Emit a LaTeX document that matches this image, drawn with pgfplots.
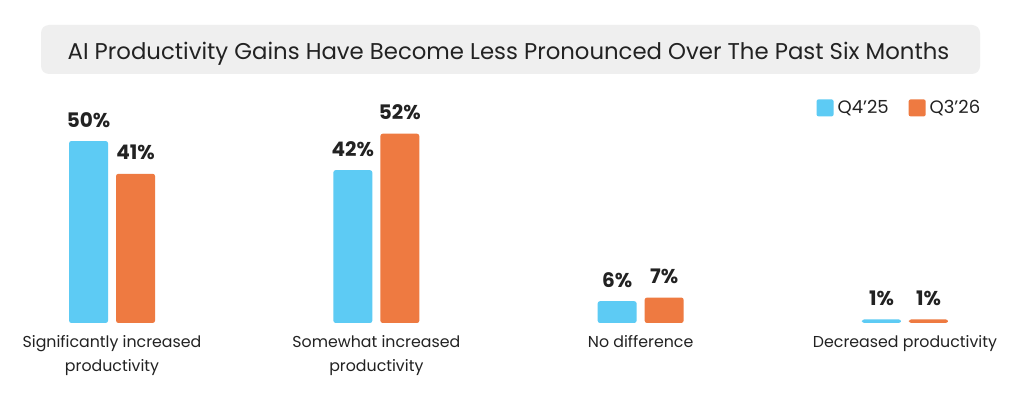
\documentclass[border=0pt]{standalone}
\usepackage{fontspec}
\setmainfont{Poppins}
\usepackage{pgfplots}
\pgfplotsset{compat=1.18}
\definecolor{cblue}{HTML}{5DCBF4}
\definecolor{corange}{HTML}{EE7A41}
\definecolor{ctext}{HTML}{222222}
\definecolor{cbox}{HTML}{EFEFEF}
\begin{document}
\begin{tikzpicture}
\path[use as bounding box] (0,0) rectangle (512pt,206.5pt);
\fill[white] (0,0) rectangle (512pt,206.5pt);
\fill[cbox, rounded corners=4pt] (20.5pt,169.5pt) rectangle (490pt,194pt);
\node[anchor=base, inner sep=0, text=ctext, font=\fontsize{11.4}{14}\selectfont] at (254.25pt,176.5pt) {AI Productivity Gains Have Become Less Pronounced Over The Past Six Months};
\begin{axis}[
  at={(3.15pt,45pt)}, anchor=south west,
  width=502.2pt, height=109.2pt, scale only axis,
  xmin=-0.4, xmax=3.4, ymin=0, ymax=60,
  axis line style={draw=none}, major tick length=0pt,
  ytick=\empty, xtick=data,
  xticklabels={{Significantly increased\\productivity},{Somewhat increased\\productivity},{No difference},{Decreased productivity}},
  xticklabel style={align=center, anchor=north, inner sep=0pt, yshift=-6pt, text=ctext, font=\fontsize{7.9}{12.2}\selectfont},
  ybar=4pt, bar width=19.5pt,
  clip=false,
  nodes near coords={\pgfmathprintnumber[assume math mode=true]{\pgfplotspointmeta}\%},
  every node near coord/.append style={font=\bfseries\fontsize{10}{12}\selectfont, text=ctext, anchor=base, inner sep=0pt, yshift=7pt},
  legend image code/.code={\fill[#1, draw=none, rounded corners=1pt] (0pt,-4.25pt) rectangle (8.5pt,4.25pt);},
  legend style={at={(0.974,0.985)}, anchor=east, draw=none, fill=none, legend columns=2, font=\fontsize{9}{11}\selectfont, text=ctext, inner sep=0pt, /tikz/every even column/.append style={column sep=8pt}},
]
\addplot[fill=cblue, draw=none, rounded corners=1.2pt] coordinates {(0,50) (1,42) (2,6) (3,1)};
\addplot[fill=corange, draw=none, rounded corners=1.2pt] coordinates {(0,41) (1,52) (2,7) (3,1)};
\legend{Q4’25, Q3’26}
\end{axis}
\end{tikzpicture}
\end{document}
